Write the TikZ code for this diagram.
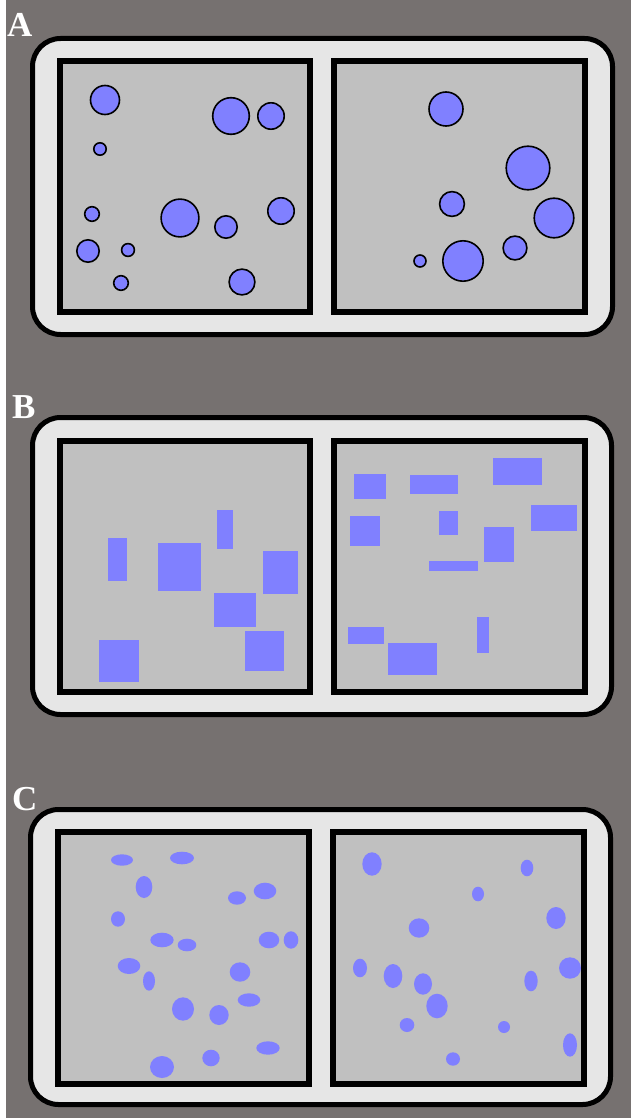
\documentclass[tikz,border=0pt]{standalone}
\usepackage{fontspec}
\setmainfont{Liberation Serif}
\definecolor{backdrop}{HTML}{767170}
\definecolor{trayfill}{HTML}{E6E6E6}
\definecolor{wellfill}{HTML}{C0C0C0}
\definecolor{blobfill}{HTML}{8080FF}
\tikzset{
  tray/.style={draw=black, line width=5pt, fill=trayfill, rounded corners=28pt},
  wellbg/.style={fill=wellfill},
  wellline/.style={draw=black, line width=6pt, line join=miter},
  disc/.style={draw=black, line width=1.6pt, fill=blobfill},
  blob/.style={fill=blobfill},
  tag/.style={text=white, font=\fontsize{35}{35}\selectfont\bfseries, inner sep=0pt, anchor=base west}
}
\begin{document}
\begin{tikzpicture}[x=1pt, y=-1pt]
\useasboundingbox (0,0) rectangle (631,1118);
\fill[white] (0,0) rectangle (631,1118);
\fill[backdrop] (6,0) rectangle (631,1118);

% ---------------- A : circles ----------------
\node[tag] (labA) at (7,37) {A};
\path[tray] (32.5,38.5) rectangle (612.5,334.5);
\path[wellbg] (60,61) rectangle (310,312);
\path[wellbg] (334,61) rectangle (585,312);
% left well
\draw[disc] (105,100) circle[radius=14.5pt];
\draw[disc] (100,149) circle[radius=6.2pt];
\draw[disc] (231,116) circle[radius=18.3pt];
\draw[disc] (271,116) circle[radius=13.2pt];
\draw[disc] (92,214) circle[radius=7.3pt];
\draw[disc] (180,218) circle[radius=18.9pt];
\draw[disc] (226,227) circle[radius=11.2pt];
\draw[disc] (281,211) circle[radius=13.2pt];
\draw[disc] (88,251) circle[radius=11.2pt];
\draw[disc] (128,250) circle[radius=6.4pt];
\draw[disc] (121,283) circle[radius=7.3pt];
\draw[disc] (242,282) circle[radius=12.9pt];
% right well
\draw[disc] (446,109) circle[radius=17pt];
\draw[disc] (528,168) circle[radius=21.8pt];
\draw[disc] (452,204) circle[radius=12.4pt];
\draw[disc] (554,218) circle[radius=19.8pt];
\draw[disc] (515,248) circle[radius=11.9pt];
\draw[disc] (420,261) circle[radius=6pt];
\draw[disc] (463,261) circle[radius=20.2pt];
\draw[wellline] (60,61) rectangle (310,312);
\draw[wellline] (334,61) rectangle (585,312);

% ---------------- B : rectangles ----------------
\node[tag] (labB) at (12,418) {B};
\path[tray] (32.5,417.5) rectangle (611.5,714.5);
\path[wellbg] (60,441) rectangle (310,692);
\path[wellbg] (334,441) rectangle (585,692);
% left well
\fill[blob] (108,538) rectangle (127,581);
\fill[blob] (158,543) rectangle (201,591);
\fill[blob] (217,510) rectangle (233,549);
\fill[blob] (263,551) rectangle (298,594);
\fill[blob] (214,593) rectangle (256,627);
\fill[blob] (245,631) rectangle (284,671);
\fill[blob] (99,640) rectangle (139,682);
% right well
\fill[blob] (354,474) rectangle (386,499);
\fill[blob] (410,475) rectangle (458,494);
\fill[blob] (493,458) rectangle (542,485);
\fill[blob] (350,516) rectangle (380,546);
\fill[blob] (439,511) rectangle (458,535);
\fill[blob] (531,505) rectangle (577,531);
\fill[blob] (484,527) rectangle (514,562);
\fill[blob] (429,561) rectangle (478,571);
\fill[blob] (477,617) rectangle (489,653);
\fill[blob] (348,627) rectangle (384,644);
\fill[blob] (388,643) rectangle (437,675);
\draw[wellline] (60,441) rectangle (310,692);
\draw[wellline] (334,441) rectangle (585,692);

% ---------------- C : ellipses ----------------
\node[tag] (labC) at (12,810) {C};
\path[tray] (30.5,809.5) rectangle (610.5,1104.5);
\path[wellbg] (58,832) rectangle (309,1084);
\path[wellbg] (333,832) rectangle (584,1084);
% left well
\fill[blob] (122,860) ellipse[x radius=11pt, y radius=5.7pt];
\fill[blob] (182,858) ellipse[x radius=12pt, y radius=6.3pt];
\fill[blob] (144,887) ellipse[x radius=8.3pt, y radius=11pt];
\fill[blob] (237,898) ellipse[x radius=9pt, y radius=6.7pt];
\fill[blob] (265,891) ellipse[x radius=11.3pt, y radius=8.3pt];
\fill[blob] (118,919) ellipse[x radius=7pt, y radius=7.7pt];
\fill[blob] (162,940) ellipse[x radius=11.7pt, y radius=7.3pt];
\fill[blob] (187,945) ellipse[x radius=9.3pt, y radius=6.3pt];
\fill[blob] (269,940) ellipse[x radius=10.3pt, y radius=8.3pt];
\fill[blob] (291,940) ellipse[x radius=7.3pt, y radius=8.7pt];
\fill[blob] (129,966) ellipse[x radius=11.3pt, y radius=8pt];
\fill[blob] (149,981) ellipse[x radius=6pt, y radius=9.7pt];
\fill[blob] (240,972) ellipse[x radius=10.3pt, y radius=9.7pt];
\fill[blob] (249,1000) ellipse[x radius=11.3pt, y radius=6.7pt];
\fill[blob] (183,1009) ellipse[x radius=11pt, y radius=11.7pt];
\fill[blob] (219,1015) ellipse[x radius=9.7pt, y radius=10pt];
\fill[blob] (268,1048) ellipse[x radius=11.7pt, y radius=6.7pt];
\fill[blob] (211,1058) ellipse[x radius=8.7pt, y radius=8.3pt];
\fill[blob] (162,1067) ellipse[x radius=12pt, y radius=11pt];
% right well
\fill[blob] (372,864) ellipse[x radius=9.7pt, y radius=11.7pt];
\fill[blob] (527,868) ellipse[x radius=6.3pt, y radius=8.3pt];
\fill[blob] (478,894) ellipse[x radius=6pt, y radius=7.3pt];
\fill[blob] (556,918) ellipse[x radius=9.7pt, y radius=11pt];
\fill[blob] (419,928) ellipse[x radius=10.3pt, y radius=9.7pt];
\fill[blob] (360,968) ellipse[x radius=7pt, y radius=9.3pt];
\fill[blob] (393,976) ellipse[x radius=9.3pt, y radius=12pt];
\fill[blob] (423,984) ellipse[x radius=9pt, y radius=10.7pt];
\fill[blob] (570,968) ellipse[x radius=11pt, y radius=10.7pt];
\fill[blob] (531,981) ellipse[x radius=6.7pt, y radius=10.3pt];
\fill[blob] (437,1006) ellipse[x radius=10.7pt, y radius=12.3pt];
\fill[blob] (407,1025) ellipse[x radius=7.3pt, y radius=7pt];
\fill[blob] (504,1027) ellipse[x radius=6pt, y radius=6pt];
\fill[blob] (570,1045) ellipse[x radius=7pt, y radius=11.7pt];
\fill[blob] (453,1059) ellipse[x radius=7pt, y radius=6.7pt];
\draw[wellline] (58,832) rectangle (309,1084);
\draw[wellline] (333,832) rectangle (584,1084);
\end{tikzpicture}
\end{document}
